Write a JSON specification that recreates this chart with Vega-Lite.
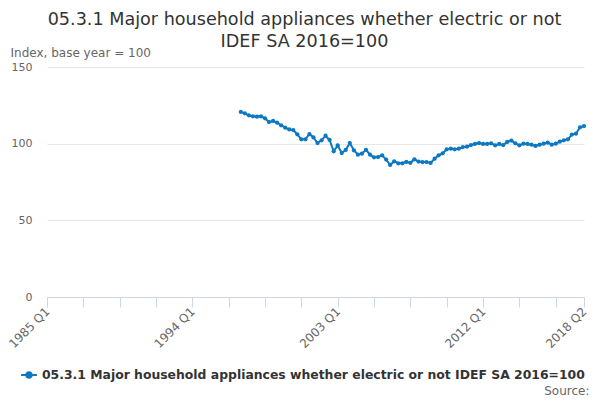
{
  "$schema": "https://vega.github.io/schema/vega-lite/v6.json",
  "autosize": {"type": "none"},
  "width": 537,
  "height": 230,
  "padding": {"left": 47, "top": 67, "right": 16, "bottom": 103},
  "background": "white",
  "config": {
    "font": "DejaVu Sans",
    "view": {"stroke": null}
  },
  "title": {
    "text": ["05.3.1 Major household appliances whether electric or not", "IDEF SA 2016=100"],
    "fontSize": 17.6,
    "fontWeight": "normal",
    "color": "#333333",
    "anchor": "middle",
    "frame": "group",
    "dx": -11,
    "lineHeight": 22,
    "offset": -5
  },
  "data": {
    "values": [
      {"date": "1997-01-01", "value": 120.7},
      {"date": "1997-04-01", "value": 119.8},
      {"date": "1997-07-01", "value": 118.5},
      {"date": "1997-10-01", "value": 117.8},
      {"date": "1998-01-01", "value": 117.6},
      {"date": "1998-04-01", "value": 117.8},
      {"date": "1998-07-01", "value": 116.5},
      {"date": "1998-10-01", "value": 114.1},
      {"date": "1999-01-01", "value": 114.8},
      {"date": "1999-04-01", "value": 113.7},
      {"date": "1999-07-01", "value": 112.0},
      {"date": "1999-10-01", "value": 110.4},
      {"date": "2000-01-01", "value": 109.3},
      {"date": "2000-04-01", "value": 108.9},
      {"date": "2000-07-01", "value": 106.1},
      {"date": "2000-10-01", "value": 102.8},
      {"date": "2001-01-01", "value": 102.8},
      {"date": "2001-04-01", "value": 106.3},
      {"date": "2001-07-01", "value": 104.1},
      {"date": "2001-10-01", "value": 100.4},
      {"date": "2002-01-01", "value": 102.2},
      {"date": "2002-04-01", "value": 105.2},
      {"date": "2002-07-01", "value": 102.4},
      {"date": "2002-10-01", "value": 95.0},
      {"date": "2003-01-01", "value": 98.9},
      {"date": "2003-04-01", "value": 93.9},
      {"date": "2003-07-01", "value": 95.9},
      {"date": "2003-10-01", "value": 100.4},
      {"date": "2004-01-01", "value": 95.7},
      {"date": "2004-04-01", "value": 92.8},
      {"date": "2004-07-01", "value": 93.5},
      {"date": "2004-10-01", "value": 96.0},
      {"date": "2005-01-01", "value": 92.8},
      {"date": "2005-04-01", "value": 91.1},
      {"date": "2005-07-01", "value": 91.3},
      {"date": "2005-10-01", "value": 92.4},
      {"date": "2006-01-01", "value": 89.6},
      {"date": "2006-04-01", "value": 86.1},
      {"date": "2006-07-01", "value": 88.5},
      {"date": "2006-10-01", "value": 87.2},
      {"date": "2007-01-01", "value": 87.2},
      {"date": "2007-04-01", "value": 88.1},
      {"date": "2007-07-01", "value": 87.5},
      {"date": "2007-10-01", "value": 89.8},
      {"date": "2008-01-01", "value": 88.3},
      {"date": "2008-04-01", "value": 88.0},
      {"date": "2008-07-01", "value": 88.0},
      {"date": "2008-10-01", "value": 87.4},
      {"date": "2009-01-01", "value": 90.2},
      {"date": "2009-04-01", "value": 92.4},
      {"date": "2009-07-01", "value": 93.7},
      {"date": "2009-10-01", "value": 96.3},
      {"date": "2010-01-01", "value": 96.7},
      {"date": "2010-04-01", "value": 96.3},
      {"date": "2010-07-01", "value": 96.7},
      {"date": "2010-10-01", "value": 97.8},
      {"date": "2011-01-01", "value": 98.0},
      {"date": "2011-04-01", "value": 99.1},
      {"date": "2011-07-01", "value": 99.8},
      {"date": "2011-10-01", "value": 100.4},
      {"date": "2012-01-01", "value": 99.8},
      {"date": "2012-04-01", "value": 99.8},
      {"date": "2012-07-01", "value": 100.2},
      {"date": "2012-10-01", "value": 98.9},
      {"date": "2013-01-01", "value": 99.8},
      {"date": "2013-04-01", "value": 99.1},
      {"date": "2013-07-01", "value": 101.1},
      {"date": "2013-10-01", "value": 102.0},
      {"date": "2014-01-01", "value": 100.2},
      {"date": "2014-04-01", "value": 98.9},
      {"date": "2014-07-01", "value": 100.0},
      {"date": "2014-10-01", "value": 99.8},
      {"date": "2015-01-01", "value": 99.3},
      {"date": "2015-04-01", "value": 98.5},
      {"date": "2015-07-01", "value": 99.3},
      {"date": "2015-10-01", "value": 100.0},
      {"date": "2016-01-01", "value": 100.7},
      {"date": "2016-04-01", "value": 99.3},
      {"date": "2016-07-01", "value": 100.0},
      {"date": "2016-10-01", "value": 101.3},
      {"date": "2017-01-01", "value": 102.2},
      {"date": "2017-04-01", "value": 102.8},
      {"date": "2017-07-01", "value": 105.9},
      {"date": "2017-10-01", "value": 106.5},
      {"date": "2018-01-01", "value": 110.7},
      {"date": "2018-04-01", "value": 111.5}
    ]
  },
  "mark": {
    "type": "line",
    "strokeWidth": 2,
    "point": {"filled": true, "size": 18}
  },
  "encoding": {
    "x": {
      "field": "date",
      "type": "temporal",
      "scale": {
        "type": "utc",
        "domain": [
          {"year": 1985, "month": 1, "date": 1, "utc": true},
          {"year": 2018, "month": 4, "date": 1, "utc": true}
        ]
      },
      "axis": {
        "values": [
          {"year": 1985, "month": 1, "date": 1, "utc": true},
          {"year": 1987, "month": 4, "date": 1, "utc": true},
          {"year": 1989, "month": 7, "date": 1, "utc": true},
          {"year": 1991, "month": 10, "date": 1, "utc": true},
          {"year": 1994, "month": 1, "date": 1, "utc": true},
          {"year": 1996, "month": 4, "date": 1, "utc": true},
          {"year": 1998, "month": 7, "date": 1, "utc": true},
          {"year": 2000, "month": 10, "date": 1, "utc": true},
          {"year": 2003, "month": 1, "date": 1, "utc": true},
          {"year": 2005, "month": 4, "date": 1, "utc": true},
          {"year": 2007, "month": 7, "date": 1, "utc": true},
          {"year": 2009, "month": 10, "date": 1, "utc": true},
          {"year": 2012, "month": 1, "date": 1, "utc": true},
          {"year": 2014, "month": 4, "date": 1, "utc": true},
          {"year": 2016, "month": 7, "date": 1, "utc": true},
          {"year": 2018, "month": 4, "date": 1, "utc": true}
        ],
        "labelExpr": "indexof(['1985 Q1','1994 Q1','2003 Q1','2012 Q1','2018 Q2'], utcFormat(datum.value, '%Y Q%q')) >= 0 ? utcFormat(datum.value, '%Y Q%q') : ''",
        "labelAngle": -45,
        "labelAlign": "right",
        "labelBaseline": "middle",
        "labelFontSize": 12,
        "labelColor": "#666666",
        "labelOverlap": false,
        "labelFlush": false,
        "labelBound": false,
        "labelPadding": 2,
        "tickSize": 10,
        "tickColor": "#ccd6eb",
        "domainColor": "#ccd6eb",
        "grid": false,
        "title": "Source:",
        "titleFontSize": 12,
        "titleFontWeight": "normal",
        "titleColor": "#666666",
        "titleAlign": "right",
        "titleBaseline": "middle",
        "titleAnchor": "end",
        "titleX": 542,
        "titleY": 93
      }
    },
    "y": {
      "field": "value",
      "type": "quantitative",
      "scale": {"domain": [0, 150], "nice": false},
      "axis": {
        "values": [0, 50, 100, 150],
        "domain": false,
        "ticks": false,
        "labelPadding": 15,
        "labelFontSize": 11,
        "labelColor": "#666666",
        "gridColor": "#e6e6e6",
        "title": "Index, base year = 100",
        "titleAngle": 0,
        "titleAlign": "left",
        "titleBaseline": "middle",
        "titleFontSize": 12,
        "titleFontWeight": "normal",
        "titleColor": "#666666",
        "titleX": -37,
        "titleY": -15
      }
    },
    "color": {
      "datum": "05.3.1 Major household appliances whether electric or not IDEF SA 2016=100",
      "type": "nominal",
      "scale": {"range": ["#0b78c2"]},
      "legend": {
        "title": null,
        "orient": "none",
        "legendX": -27,
        "legendY": 299,
        "labelFontSize": 12.4,
        "labelFontWeight": "bold",
        "labelColor": "#333333",
        "labelLimit": 600,
        "symbolType": "M-1,0L1,0M-0.35,0A0.35,0.35 0 1,1 0.35,0A0.35,0.35 0 1,1 -0.35,0",
        "symbolSize": 250,
        "symbolStrokeWidth": 2,
        "symbolFillColor": "#0b78c2",
        "symbolStrokeColor": "#0b78c2"
      }
    }
  }
}
